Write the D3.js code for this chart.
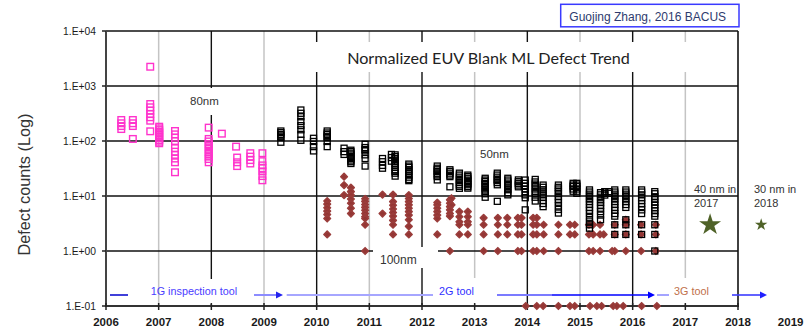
<!DOCTYPE html>
<html><head><meta charset="utf-8">
<script src="https://cdn.jsdelivr.net/npm/d3@7"></script>
<style>body{margin:0;background:#fff}svg{display:block}</style>
</head><body>
<svg id="chart" width="804" height="328"></svg>
<script>
// ---------- data ----------
const yearLabels = [2006,2007,2008,2009,2010,2011,2012,2013,2014,2015,2016,2017,2018,2019];
const yTickValues = [0.1, 1, 10, 100, 1000, 10000];
const yTickLabels = ["1.E-01","1.E+00","1.E+01","1.E+02","1.E+03","1.E+04"];

// 1G tool (80nm) – pink open squares: [year, values]
const pinkColumns = [
  [2006.29, [241, 210, 187, 165]],
  [2006.51, [241, 210, 187, 109]],
  [2006.84, [2240, 470, 410, 357, 310, 270, 234, 150]],
  [2007.01, [182, 170, 158, 147, 138, 128, 120, 112, 104, 97, 91]],
  [2007.31, [152, 132, 115, 100, 74, 64, 56, 48, 41, 27]],
  [2007.95, [175, 109, 98, 88, 80, 72, 64, 58, 52, 47, 41]],
  [2008.20, [136]],
  [2008.47, [79]],
  [2008.49, [50, 41, 35]],
  [2008.74, [60, 52, 45, 39]],
  [2008.97, [60, 43, 36, 32, 28, 23, 19.3]]
];

// 50nm – black open squares
const blackColumns = [
  [2009.32, [152, 142, 132, 124, 115, 95]],
  [2009.70, [366, 319, 276, 226, 190, 160, 132, 103]],
  [2009.94, [112, 98, 79, 66]],
  [2010.20, [152, 140, 132, 122, 115, 98, 79]],
  [2010.52, [74, 64, 57]],
  [2010.65, [68, 64, 60, 56, 52, 48, 45, 42, 39]],
  [2010.92, [87, 76, 70, 66, 56, 48, 35]],
  [2011.25, [48, 42, 36, 32]],
  [2011.42, [57, 50, 43]],
  [2011.49, [56, 52, 48, 45, 42, 39, 36, 33, 30, 28, 26, 23]],
  [2011.75, [38, 35, 33, 30, 28, 26, 24, 22, 20, 19]],
  [2012.29, [35, 32, 30, 28, 26, 24, 22.5, 19.6]],
  [2012.53, [30, 28, 26, 24, 22.5, 14.7]],
  [2012.71, [26, 24, 22, 20, 19, 17.5, 16, 15, 13.8]],
  [2012.87, [24, 22.5, 21, 19.5, 18.4, 17, 16, 14.8, 13.9]],
  [2013.20, [21, 19.5, 18.4, 17, 16, 14.8, 13.9, 12.9, 12, 11, 9.5]],
  [2013.43, [26, 24, 22, 20, 19, 17.5, 16, 8]],
  [2013.63, [21, 19.5, 18, 16.5, 15.5, 14, 13, 11.5, 10.5]],
  [2013.83, [19.6, 18.2, 17, 15.8, 14.7]],
  [2013.96, [19.5, 17, 15, 13.4, 12, 10.5, 9.3, 5.6]],
  [2014.15, [20, 18, 16.5, 15, 13.4, 12, 11, 9.5, 8.1]],
  [2014.30, [15.8, 14.4, 13, 11.8, 10.5, 9.5, 8.3, 7.3, 6.4]],
  [2014.59, [15.8, 14.4, 13.4, 12, 11, 9.7, 8.7, 7.7, 6.6, 5.7, 4.9]],
  [2014.87, [17, 15.8, 14.8, 13.4, 12.2]],
  [2014.94, [17, 15.8, 14.8, 13.4, 12.2, 11.2]],
  [2015.18, [12.9, 11.8, 10.8, 9.7, 8.8, 7.9, 7, 6.2, 5.5, 4.8, 4.1, 3.5, 3.0, 2.6]],
  [2015.39, [11.5, 10.5, 9.5, 8.5, 7.6, 6.8, 6, 5.2, 4.5, 3.7]],
  [2015.47, [12, 11.2, 10.4]],
  [2015.55, [12, 11.2]],
  [2015.66, [12.9, 11.8, 10.8, 9.7, 8.8, 7.9, 7, 6.2, 5.5, 4.8, 4.3, 3.0, 2.0]],
  [2015.87, [12.9, 11.8, 10.8, 9.7, 8.8, 7.9, 7, 6.2, 3.7, 3.0, 2.0]],
  [2016.17, [12.9, 11.8, 10.5, 9.3, 8.3, 7.3, 6.4, 5.6, 4.8, 3.0, 2.0]],
  [2016.42, [12, 11, 9.7, 8.7, 7.7, 6.9, 6.1, 5.4, 4.8, 4.3, 3.0, 2.0, 1.0]]
];

// 100nm – brown diamonds
const brownColumns = [
  [2010.20, [8.1, 7.1, 6.1, 5.3, 4.6, 3.9, 2.0]],
  [2010.52, [22.4, 15.8, 10.4]],
  [2010.65, [14.2, 12, 10.4, 8.8, 7.4, 6, 4.8]],
  [2010.92, [8.9, 8, 7, 6.2, 5.5, 4.8, 4.2, 3.9, 3.0, 1.0]],
  [2011.25, [10.6, 4.8]],
  [2011.45, [10.6, 7.9, 6.8, 5.8, 5, 4.3, 3.6, 3.0, 2.0]],
  [2011.75, [10.4, 9, 7.9, 6.9, 6, 5.2, 4.5, 3.7, 2.8, 2.0]],
  [2012.29, [7.6, 6.9, 6, 5.2, 4.5, 3.9, 2.0]],
  [2012.53, [8.5, 7.4, 6.4, 5.6, 4.8, 4.3, 1.0]],
  [2012.56, [9.1, 6.9]],
  [2012.71, [5.2, 4.2, 3.4, 3.0, 2.0]],
  [2012.87, [5.2, 4.2, 3.4, 3.0, 2.0]],
  [2013.17, [4.0, 3.0, 2.0, 1.0]],
  [2013.44, [4.0, 3.0, 2.0, 1.0]],
  [2013.62, [4.0, 3.0, 2.0]],
  [2013.82, [4.0, 3.0, 2.0, 1.0]],
  [2013.89, [4.0, 3.0, 2.0, 1.0]],
  [2014.11, [4.0, 3.0, 2.0, 1.0]],
  [2014.18, [4.0, 3.0, 2.0, 1.0]],
  [2014.31, [3.0, 2.0, 1.0]],
  [2014.59, [3.0, 2.0, 1.0]],
  [2014.81, [3.0, 2.0]],
  [2014.90, [3.0, 2.0]],
  [2015.17, [3.0, 2.0, 1.0]],
  [2015.25, [3.0, 2.0, 1.0]],
  [2015.38, [3.0, 2.0, 1.0]],
  [2015.45, [2.0]],
  [2015.61, [1.0]],
  [2015.66, [3.0, 2.0, 1.0]],
  [2015.87, [3.7, 3.0, 2.0, 1.0]],
  [2016.16, [3.0, 2.0, 1.0]],
  [2016.44, [3.0, 2.0, 1.0]]
];

// zero-defect blanks, plotted on the 1.E-01 floor
const zeroYears = [2013.97, 2014.18, 2014.30, 2014.59, 2014.81, 2014.90, 2015.19, 2015.32, 2015.41, 2015.63, 2015.70, 2015.82, 2016.17, 2016.46];
const zeroValue = 0.1;

// targets
const starYears = [2017.47, 2018.44];
const starValues = [3.0, 3.0];
const starLabels = [["40 nm in", "2017"], ["30 nm in", "2018"]];

// ---------- scales ----------
const svg = d3.select("#chart");
const x = d3.scaleLinear().domain([2006, 2018]).range([106, 738]);
const y = d3.scaleLog().domain([0.1, 10000]).range([306, 31]);
const FONT = "'Liberation Sans', Arial, sans-serif";

// ---------- grid ----------
const grid = svg.append("g");
const innerYears = d3.range(2007, 2018);
grid.selectAll("line.v").data(innerYears).join("line")
  .attr("x1", d => x(d)).attr("x2", d => x(d))
  .attr("y1", y(10000)).attr("y2", y(0.1))
  .attr("stroke", d => d % 2 ? "#c4c4c4" : "#111")
  .attr("stroke-width", d => d % 2 ? 1.5 : 1.4);
grid.selectAll("line.h").data([1, 10, 100, 1000, 10000]).join("line")
  .attr("x1", x(2006)).attr("x2", x(2018))
  .attr("y1", d => y(d)).attr("y2", d => y(d))
  .attr("stroke", "#111").attr("stroke-width", 1.4);
// right border
grid.append("line").attr("x1", x(2018)).attr("x2", x(2018))
  .attr("y1", y(10000)).attr("y2", y(0.1)).attr("stroke", "#111").attr("stroke-width", 1.6);

// white label boxes (cover gridlines like in the source)
const boxes = [
  [312, 42, 388, 30],   // title
  [182, 88, 50, 27],    // 80nm
  [373, 247, 65, 21],   // 100nm
  [192, 279, 45, 25],   // 1G
  [436, 278, 42, 26],   // 2G
  [672, 278, 40, 26]    // 3G
];
svg.append("g").selectAll("rect").data(boxes).join("rect")
  .attr("x", d => d[0]).attr("y", d => d[1]).attr("width", d => d[2]).attr("height", d => d[3])
  .attr("fill", "#fff");

// axes
const axes = svg.append("g");
axes.append("line").attr("x1", x(2006)).attr("x2", x(2006))
  .attr("y1", y(10000)).attr("y2", y(0.1)).attr("stroke", "#444").attr("stroke-width", 2);
axes.append("line").attr("x1", x(2006) - 1).attr("x2", x(2018) + 1)
  .attr("y1", y(0.1)).attr("y2", y(0.1)).attr("stroke", "#333").attr("stroke-width", 2);
axes.selectAll("line.xt").data(d3.range(2006, 2019)).join("line")
  .attr("x1", d => x(d)).attr("x2", d => x(d))
  .attr("y1", y(0.1) - 3).attr("y2", y(0.1) + 4)
  .attr("stroke", "#222").attr("stroke-width", 1.5);
axes.selectAll("line.yt").data(yTickValues).join("line")
  .attr("x1", x(2006) - 4).attr("x2", x(2006))
  .attr("y1", d => y(d)).attr("y2", d => y(d))
  .attr("stroke", "#222").attr("stroke-width", 1.5);
axes.selectAll("text.xl").data(yearLabels).join("text")
  .attr("x", d => x(d)).attr("y", 325.5)
  .attr("text-anchor", "middle").attr("font-family", FONT)
  .attr("font-size", 11.5).attr("font-weight", "bold").attr("fill", "#1a1a1a")
  .text(d => d);
axes.selectAll("text.yl").data(yTickValues).join("text")
  .attr("x", 96).attr("y", d => y(d) + 3.7)
  .attr("text-anchor", "end").attr("font-family", FONT)
  .attr("font-size", 10.3).attr("fill", "#1a1a1a")
  .text((d, i) => yTickLabels[i]);

svg.append("text")
  .attr("transform", "translate(23.5,184.5) rotate(-90)")
  .attr("text-anchor", "middle").attr("dominant-baseline", "central")
  .attr("font-family", FONT).attr("font-size", 16.3).attr("fill", "#333")
  .text("Defect counts (Log)");

// ---------- marks ----------
const flat = cols => cols.flatMap(([yr, vals]) => vals.map(v => ({yr, v})));

const diamond = "M0,-3.3L3.3,0L0,3.3L-3.3,0Z";
const brownStyle = sel => sel.attr("d", diamond)
  .attr("fill", "#943634").attr("stroke", "#9a3d3b").attr("stroke-width", 1.6)
  .attr("stroke-linejoin", "round");
svg.append("g").selectAll("path").data(flat(brownColumns)).join("path")
  .call(brownStyle)
  .attr("transform", d => `translate(${x(d.yr)},${y(d.v)})`);
svg.append("g").selectAll("path").data(zeroYears).join("path")
  .call(brownStyle)
  .attr("transform", d => `translate(${x(d)},${y(zeroValue)})`);

svg.append("g").selectAll("rect").data(flat(pinkColumns)).join("rect")
  .attr("x", d => x(d.yr) - 3.3).attr("y", d => y(d.v) - 3.3)
  .attr("width", 6.6).attr("height", 6.6)
  .attr("fill", "none").attr("stroke", "#ff33cc").attr("stroke-width", 1.4);

svg.append("g").selectAll("rect").data(flat(blackColumns)).join("rect")
  .attr("x", d => x(d.yr) - 3).attr("y", d => y(d.v) - 3)
  .attr("width", 6).attr("height", 6)
  .attr("fill", "none").attr("stroke", "#000").attr("stroke-width", 1.3);

// stars
const starSizes = [150, 48];
svg.append("g").selectAll("path").data(starYears).join("path")
  .attr("d", (d, i) => d3.symbol(d3.symbolStar, starSizes[i])())
  .attr("transform", (d, i) => `translate(${x(d)},${y(starValues[i])})`)
  .attr("fill", "#4f6228");

// ---------- annotations ----------
const ann = svg.append("g").attr("font-family", FONT).attr("fill", "#333");
ann.append("text").attr("x", 190).attr("y", 104.5).attr("font-size", 11.5).text("80nm");
ann.append("text").attr("x", 480).attr("y", 158.3).attr("font-size", 11.5).text("50nm");
ann.append("text").attr("x", 380).attr("y", 264).attr("font-size", 12).text("100nm");
starLabels.forEach((lines, i) => {
  const lx = [694, 754][i];
  lines.forEach((t, j) => ann.append("text").attr("x", lx).attr("y", 193.3 + j * 13.4)
    .attr("font-size", 11).text(t));
});

// title
const title = svg.append("text").attr("x", 488.5).attr("y", 63.5)
  .attr("text-anchor", "middle").attr("font-family", "Lato, 'Open Sans', sans-serif")
  .attr("font-size", 16).attr("fill", "#222")
  .text("Normalized EUV Blank ML Defect Trend");
const tw = title.node().getComputedTextLength();
title.attr("font-size", 16 * 283 / tw);

// citation box
svg.append("rect").attr("x", 560.7).attr("y", 4.3).attr("width", 178.3).attr("height", 22.5)
  .attr("fill", "#fff").attr("stroke", "#3a3aff").attr("stroke-width", 1.5);
svg.append("text").attr("x", 569.3).attr("y", 20.8)
  .attr("font-family", FONT).attr("font-size", 12).attr("fill", "#2e3b6e")
  .text("Guojing Zhang, 2016 BACUS");

// tool arrows
const tl = svg.append("g");
const seg = (x1, x2, c, w) => tl.append("line").attr("x1", x1).attr("x2", x2)
  .attr("y1", 295).attr("y2", 295).attr("stroke", c).attr("stroke-width", w);
const head = (xt, c) => tl.append("path")
  .attr("d", `M${xt},295L${xt - 7},291.5L${xt - 7},298.5Z`).attr("fill", c);
seg(110, 128, "#0000cc", 1.5);
seg(254, 277, "#8c8cff", 2); head(283, "#2323ee");
seg(286.7, 433, "#a6a6ff", 2);
seg(497, 552, "#7b7bff", 1.8);
seg(552, 648, "#0000ff", 1.6); head(655, "#0000ff");
seg(657, 669, "#9a9aff", 1.8);
seg(732, 761, "#3b3bff", 1.6); head(767, "#2020ff");

const tt = svg.append("g").attr("font-family", FONT).attr("font-size", 10.8);
tt.append("text").attr("x", 150.7).attr("y", 295).attr("fill", "#4a3cff").text("1G inspection tool");
tt.append("text").attr("x", 439).attr("y", 295).attr("fill", "#3030ff").text("2G tool");
tt.append("text").attr("x", 674).attr("y", 295).attr("fill", "#c0704a").text("3G tool");
</script>
</body></html>
